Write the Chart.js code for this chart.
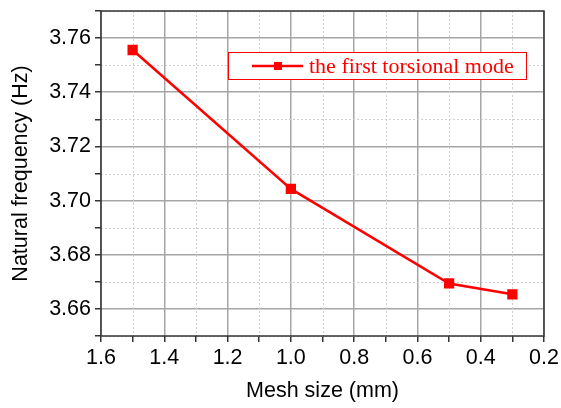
<!DOCTYPE html>
<html>
<head>
    <title>Natural frequency vs mesh size</title>
    <script src="https://cdn.jsdelivr.net/npm/chart.js@4/dist/chart.umd.min.js"></script>
    <style>
        body { margin: 0; background: #fff; }
        #wrap { width: 561px; height: 408px; }
    </style>
</head>
<body>
    <div id="wrap"><canvas id="freqChart" width="561" height="408"></canvas></div>

    <script>
        // Data
        const meshSize = [1.5, 1.0, 0.5, 0.3];
        const frequency = [3.7556, 3.7043, 3.6694, 3.6654];
        const seriesLabel = 'the first torsional mode';
        const xTitle = 'Mesh size (mm)';
        const yTitle = 'Natural frequency (Hz)';

        const red = '#ff0000';
        const majorGrid = '#a6a6a6';
        const minorGrid = '#cfcfcf';
        const sans = 'Liberation Sans, Arial';

        const isMajorY = v => Math.round(v * 100) % 2 === 0;
        const isMajorX = v => Math.round(v * 10) % 2 === 0;

        // dotted minor gridlines + frame around the plot
        const frameAndMinor = {
            id: 'frameAndMinor',
            beforeDatasetsDraw(chart) {
                const { ctx, chartArea: a, scales } = chart;
                ctx.save();
                ctx.strokeStyle = minorGrid;
                ctx.lineWidth = 1;
                ctx.setLineDash([2, 2]);
                scales.x.ticks.forEach(t => {
                    if (isMajorX(t.value)) return;
                    const px = Math.round(scales.x.getPixelForValue(t.value)) + 0.5;
                    ctx.beginPath(); ctx.moveTo(px, a.top); ctx.lineTo(px, a.bottom); ctx.stroke();
                });
                scales.y.ticks.forEach(t => {
                    if (isMajorY(t.value)) return;
                    const py = Math.round(scales.y.getPixelForValue(t.value)) + 0.5;
                    ctx.beginPath(); ctx.moveTo(a.left, py); ctx.lineTo(a.right, py); ctx.stroke();
                });
                ctx.setLineDash([]);
                ctx.strokeStyle = '#333';
                ctx.lineWidth = 1.5;
                ctx.strokeRect(a.left, a.top, a.right - a.left, a.bottom - a.top);
                ctx.restore();
            },
            afterDraw(chart) {
                // legend box inside the plot, top right
                const { ctx } = chart;
                const ds = chart.data.datasets[0];
                const bx = 228, by = 52, bw = 298, bh = 27;
                ctx.save();
                ctx.fillStyle = '#fff';
                ctx.fillRect(bx, by, bw, bh);
                ctx.strokeStyle = red;
                ctx.lineWidth = 1;
                ctx.strokeRect(bx + 0.5, by + 0.5, bw, bh);
                const cy = by + bh / 2 + 0.5;
                ctx.strokeStyle = red;
                ctx.lineWidth = 2.5;
                ctx.beginPath(); ctx.moveTo(252, cy); ctx.lineTo(303, cy); ctx.stroke();
                ctx.fillStyle = red;
                ctx.fillRect(274, cy - 4, 8, 8);
                ctx.font = '22px "Liberation Serif", "Times New Roman", serif';
                ctx.textBaseline = 'middle';
                ctx.fillText(ds.label, 309, cy + 1);
                ctx.restore();
            }
        };

        const ctx = document.getElementById('freqChart').getContext('2d');
        const chart = new Chart(ctx, {
            type: 'line',
            data: {
                datasets: [{
                    label: seriesLabel,
                    data: meshSize.map((m, i) => ({ x: m, y: frequency[i] })),
                    borderColor: red,
                    backgroundColor: red,
                    borderWidth: 2.5,
                    pointStyle: 'rect',
                    pointRadius: 5.5,
                    pointHoverRadius: 5.5,
                    tension: 0
                }]
            },
            options: {
                responsive: false,
                animation: false,
                layout: { padding: { left: 4, right: 17, top: 11, bottom: 0 } },
                plugins: { legend: { display: false }, tooltip: { enabled: false } },
                scales: {
                    x: {
                        type: 'linear',
                        reverse: true,
                        min: 0.2,
                        max: 1.6,
                        afterFit: s => { s.height = 72; s.paddingLeft = 0; s.paddingRight = 0; },
                        border: { display: false },
                        grid: {
                            color: c => isMajorX(c.tick.value) ? majorGrid : 'rgba(0,0,0,0)',
                            tickColor: '#333',
                            tickLength: 6,
                            lineWidth: 1.5
                        },
                        ticks: {
                            stepSize: 0.1,
                            autoSkip: false,
                            maxRotation: 0,
                            color: '#000',
                            padding: 3,
                            font: { family: sans, size: 21.5 },
                            callback: v => isMajorX(v) ? v.toFixed(1) : ''
                        },
                        title: {
                            display: true,
                            text: xTitle,
                            color: '#000',
                            padding: { top: 4 },
                            font: { family: sans, size: 21.5 }
                        }
                    },
                    y: {
                        min: 3.65,
                        max: 3.77,
                        afterFit: s => { s.width = 97; s.paddingTop = 0; s.paddingBottom = 0; },
                        border: { display: false },
                        grid: {
                            color: c => isMajorY(c.tick.value) ? majorGrid : 'rgba(0,0,0,0)',
                            tickColor: '#333',
                            tickLength: 6,
                            lineWidth: 1.5
                        },
                        ticks: {
                            stepSize: 0.01,
                            autoSkip: false,
                            color: '#000',
                            padding: 4,
                            font: { family: sans, size: 21.5 },
                            callback: v => isMajorY(v) ? v.toFixed(2) : ''
                        },
                        title: {
                            display: true,
                            text: yTitle,
                            color: '#000',
                            padding: { bottom: 0 },
                            font: { family: sans, size: 21.5 }
                        }
                    }
                }
            },
            plugins: [frameAndMinor]
        });
    </script>
</body>
</html>
